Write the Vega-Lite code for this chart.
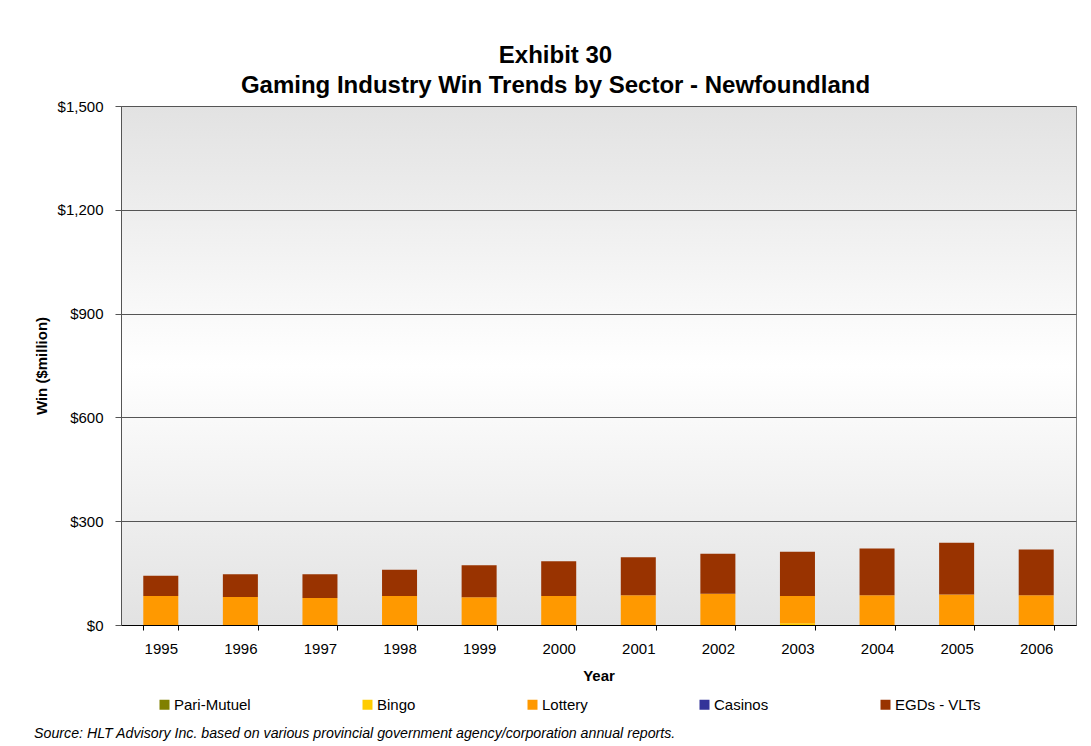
{
  "$schema": "https://vega.github.io/schema/vega-lite/v6.json",
  "width": 955,
  "height": 519,
  "autosize": {"type": "none"},
  "padding": {"left": 121, "top": 106, "right": 15, "bottom": 121},
  "background": "white",
  "title": {
    "text": "Source: HLT Advisory Inc. based on various provincial government agency/corporation annual reports.",
    "orient": "bottom",
    "anchor": "start",
    "frame": "bounds",
    "font": "Liberation Sans",
    "fontSize": 14.2,
    "fontStyle": "italic",
    "fontWeight": "normal",
    "color": "black",
    "offset": 14
  },
  "data": {
    "values": [
      {"Year": "1995", "Sector": "Pari-Mutuel", "Win": 0},
      {"Year": "1995", "Sector": "Bingo", "Win": 0},
      {"Year": "1995", "Sector": "Lottery", "Win": 84},
      {"Year": "1995", "Sector": "Casinos", "Win": 0},
      {"Year": "1995", "Sector": "EGDs - VLTs", "Win": 58},
      {"Year": "1996", "Sector": "Pari-Mutuel", "Win": 0},
      {"Year": "1996", "Sector": "Bingo", "Win": 0},
      {"Year": "1996", "Sector": "Lottery", "Win": 81},
      {"Year": "1996", "Sector": "Casinos", "Win": 0},
      {"Year": "1996", "Sector": "EGDs - VLTs", "Win": 66},
      {"Year": "1997", "Sector": "Pari-Mutuel", "Win": 0},
      {"Year": "1997", "Sector": "Bingo", "Win": 0},
      {"Year": "1997", "Sector": "Lottery", "Win": 78},
      {"Year": "1997", "Sector": "Casinos", "Win": 0},
      {"Year": "1997", "Sector": "EGDs - VLTs", "Win": 69},
      {"Year": "1998", "Sector": "Pari-Mutuel", "Win": 0},
      {"Year": "1998", "Sector": "Bingo", "Win": 0},
      {"Year": "1998", "Sector": "Lottery", "Win": 84},
      {"Year": "1998", "Sector": "Casinos", "Win": 0},
      {"Year": "1998", "Sector": "EGDs - VLTs", "Win": 76},
      {"Year": "1999", "Sector": "Pari-Mutuel", "Win": 0},
      {"Year": "1999", "Sector": "Bingo", "Win": 0},
      {"Year": "1999", "Sector": "Lottery", "Win": 80},
      {"Year": "1999", "Sector": "Casinos", "Win": 0},
      {"Year": "1999", "Sector": "EGDs - VLTs", "Win": 93},
      {"Year": "2000", "Sector": "Pari-Mutuel", "Win": 0},
      {"Year": "2000", "Sector": "Bingo", "Win": 0},
      {"Year": "2000", "Sector": "Lottery", "Win": 84},
      {"Year": "2000", "Sector": "Casinos", "Win": 0},
      {"Year": "2000", "Sector": "EGDs - VLTs", "Win": 100},
      {"Year": "2001", "Sector": "Pari-Mutuel", "Win": 0},
      {"Year": "2001", "Sector": "Bingo", "Win": 0},
      {"Year": "2001", "Sector": "Lottery", "Win": 86},
      {"Year": "2001", "Sector": "Casinos", "Win": 0},
      {"Year": "2001", "Sector": "EGDs - VLTs", "Win": 110},
      {"Year": "2002", "Sector": "Pari-Mutuel", "Win": 0},
      {"Year": "2002", "Sector": "Bingo", "Win": 0},
      {"Year": "2002", "Sector": "Lottery", "Win": 90},
      {"Year": "2002", "Sector": "Casinos", "Win": 0},
      {"Year": "2002", "Sector": "EGDs - VLTs", "Win": 116},
      {"Year": "2003", "Sector": "Pari-Mutuel", "Win": 0},
      {"Year": "2003", "Sector": "Bingo", "Win": 5},
      {"Year": "2003", "Sector": "Lottery", "Win": 79},
      {"Year": "2003", "Sector": "Casinos", "Win": 0},
      {"Year": "2003", "Sector": "EGDs - VLTs", "Win": 128},
      {"Year": "2004", "Sector": "Pari-Mutuel", "Win": 0},
      {"Year": "2004", "Sector": "Bingo", "Win": 0},
      {"Year": "2004", "Sector": "Lottery", "Win": 86},
      {"Year": "2004", "Sector": "Casinos", "Win": 0},
      {"Year": "2004", "Sector": "EGDs - VLTs", "Win": 135},
      {"Year": "2005", "Sector": "Pari-Mutuel", "Win": 0},
      {"Year": "2005", "Sector": "Bingo", "Win": 0},
      {"Year": "2005", "Sector": "Lottery", "Win": 88},
      {"Year": "2005", "Sector": "Casinos", "Win": 0},
      {"Year": "2005", "Sector": "EGDs - VLTs", "Win": 150},
      {"Year": "2006", "Sector": "Pari-Mutuel", "Win": 0},
      {"Year": "2006", "Sector": "Bingo", "Win": 0},
      {"Year": "2006", "Sector": "Lottery", "Win": 86},
      {"Year": "2006", "Sector": "Casinos", "Win": 0},
      {"Year": "2006", "Sector": "EGDs - VLTs", "Win": 132}
    ]
  },
  "transform": [
    {"calculate": "indexof(['Pari-Mutuel', 'Bingo', 'Lottery', 'Casinos', 'EGDs - VLTs'], datum.Sector)", "as": "StackOrder"}
  ],
  "layer": [
    {
      "mark": {"type": "bar"},
      "encoding": {
        "x": {
          "field": "Year",
          "type": "ordinal",
          "scale": {"paddingInner": 0.56, "paddingOuter": 0.28},
          "axis": {
            "orient": "bottom",
            "title": "Year",
            "labelAngle": 0,
            "tickBand": "extent",
            "tickSize": 5,
            "tickColor": "black",
            "domainColor": "black",
            "labelPadding": 11,
            "labelFontSize": 15,
            "labelColor": "black",
            "titleFontSize": 15,
            "titleFontWeight": "bold",
            "titleColor": "black",
            "titlePadding": 12,
            "grid": false
          }
        },
        "y": {
          "field": "Win",
          "type": "quantitative",
          "aggregate": "sum",
          "stack": "zero",
          "scale": {"domain": [0, 1500], "nice": false},
          "axis": {
            "title": "Win ($million)",
            "values": [0, 300, 600, 900, 1200, 1500],
            "format": "$,.0f",
            "tickSize": 6,
            "tickColor": "#555555",
            "domainColor": "#555555",
            "labelPadding": 12,
            "labelFontSize": 15,
            "labelColor": "black",
            "titleFontSize": 15,
            "titleFontWeight": "bold",
            "titleColor": "black",
            "titlePadding": 8,
            "grid": true,
            "gridColor": "#555555",
            "gridWidth": 1
          }
        },
        "order": {"field": "StackOrder", "type": "quantitative", "sort": "ascending"},
        "color": {
          "field": "Sector",
          "type": "nominal",
          "sort": ["Pari-Mutuel", "Bingo", "Lottery", "Casinos", "EGDs - VLTs"],
          "scale": {
            "domain": ["Pari-Mutuel", "Bingo", "Lottery", "Casinos", "EGDs - VLTs"],
            "range": ["#808000", "#FFCC00", "#FF9900", "#333399", "#993300"]
          },
          "legend": {
            "orient": "none",
            "legendX": 36,
            "legendY": 591,
            "direction": "horizontal",
            "title": null,
            "symbolType": "square",
            "symbolSize": 100,
            "symbolStrokeWidth": 0,
            "labelFontSize": 15,
            "labelColor": "black",
            "labelOffset": 2,
            "columnPadding": 109
          }
        }
      }
    },
    {
      "mark": {"type": "bar", "opacity": 0},
      "encoding": {
        "x": {
          "field": "Year",
          "type": "ordinal",
          "axis": {
            "orient": "top",
            "title": ["Exhibit 30", "Gaming Industry Win Trends by Sector - Newfoundland"],
            "labels": false,
            "ticks": false,
            "domain": false,
            "grid": false,
            "titleFontSize": 24,
            "titleFontWeight": "bold",
            "titleColor": "black",
            "titleX": 434,
            "titleY": -44,
            "titleAlign": "center",
            "titleBaseline": "alphabetic",
            "titleLineHeight": 30
          }
        },
        "y": {"field": "Win", "type": "quantitative", "aggregate": "sum", "stack": "zero"}
      }
    }
  ],
  "resolve": {"axis": {"x": "independent"}},
  "config": {
    "font": "Liberation Sans",
    "view": {
      "stroke": "#808080",
      "fill": {
        "gradient": "linear",
        "x1": 0, "y1": 0, "x2": 0, "y2": 1,
        "stops": [
          {"offset": 0, "color": "#e2e2e2"},
          {"offset": 0.5, "color": "#ffffff"},
          {"offset": 1, "color": "#e2e2e2"}
        ]
      }
    }
  }
}
